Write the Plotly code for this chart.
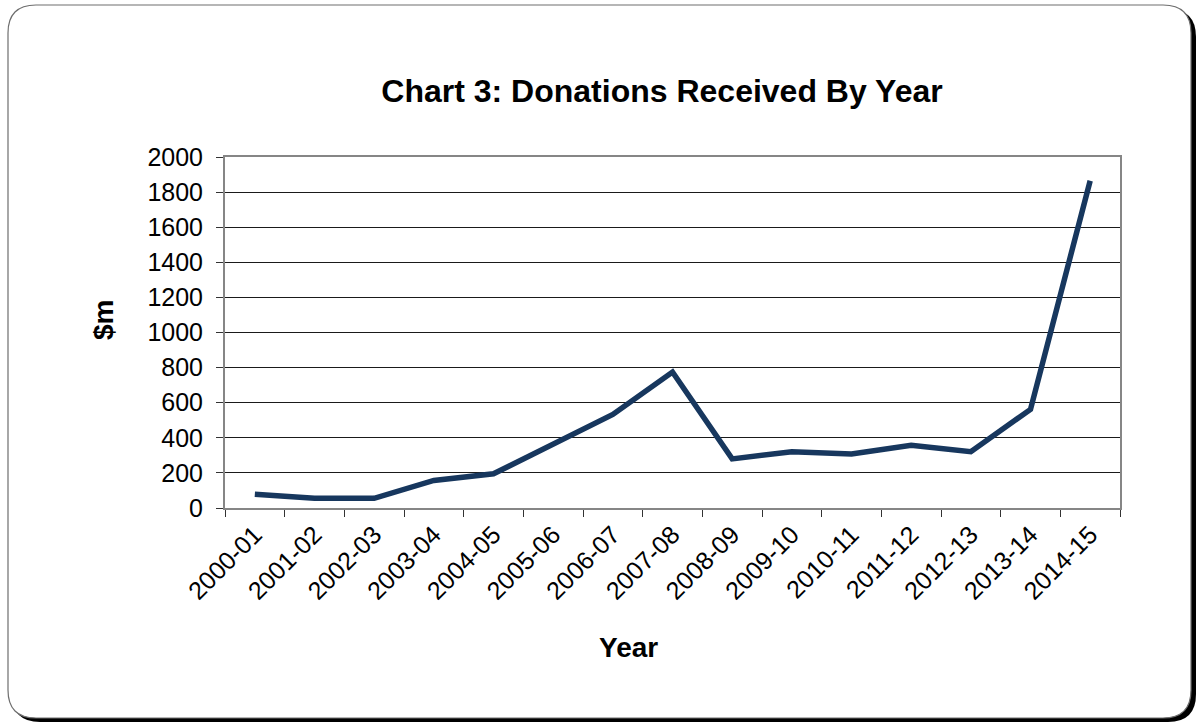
import plotly.graph_objects as go

# Financial years and donations received ($m)
years = ["2000-01", "2001-02", "2002-03", "2003-04", "2004-05", "2005-06",
         "2006-07", "2007-08", "2008-09", "2009-10", "2010-11", "2011-12",
         "2012-13", "2013-14", "2014-15"]
donations = [78, 55, 55, 157, 195, 365, 533, 775, 280, 321, 308, 358, 321, 562, 1865]

y_ticks = [0, 200, 400, 600, 800, 1000, 1200, 1400, 1600, 1800, 2000]

W, H = 1198, 725
L, R, T, B = 225, 78, 157, 217
PW, PH = W - L - R, H - T - B


def px(x):
    return (x - L) / PW


def py(y):
    return (H - B - y) / PH


def rounded_rect(x0, y0, x1, y1, r):
    return (
        f"M {px(x0 + r)},{py(y0)} L {px(x1 - r)},{py(y0)} "
        f"Q {px(x1)},{py(y0)} {px(x1)},{py(y0 + r)} "
        f"L {px(x1)},{py(y1 - r)} "
        f"Q {px(x1)},{py(y1)} {px(x1 - r)},{py(y1)} "
        f"L {px(x0 + r)},{py(y1)} "
        f"Q {px(x0)},{py(y1)} {px(x0)},{py(y1 - r)} "
        f"L {px(x0)},{py(y0 + r)} "
        f"Q {px(x0)},{py(y0)} {px(x0 + r)},{py(y0)} Z"
    )


font = "Liberation Sans, Arial, sans-serif"

fig = go.Figure()
fig.add_trace(go.Scatter(
    x=years, y=donations, mode="lines",
    line=dict(color="#17375e", width=5.5),
    hoverinfo="x+y",
))

fig.update_layout(
    width=W, height=H,
    margin=dict(l=L, r=R, t=T, b=B),
    paper_bgcolor="white",
    plot_bgcolor="#f2f2f2",
    showlegend=False,
    font=dict(family=font, color="black", size=25),
    title=dict(
        text="<b>Chart 3: Donations Received By Year</b>",
        x=662 / W, y=1 - 91 / H, xanchor="center", yanchor="middle",
        font=dict(size=32, family=font, color="black"),
    ),
    shapes=[
        # drop shadow of the chart frame
        dict(type="path", xref="paper", yref="paper", layer="below",
             path=rounded_rect(12, 9, 1196, 722, 28),
             fillcolor="black", line=dict(width=0)),
        # chart frame
        dict(type="path", xref="paper", yref="paper", layer="below",
             path=rounded_rect(8, 5, 1191, 718, 28),
             fillcolor="white", line=dict(color="#6e6e6e", width=1.2)),
    ],
    annotations=[
        dict(text="<b>Year</b>", xref="paper", yref="paper",
             x=px(628), y=py(647), xanchor="center", yanchor="middle",
             showarrow=False, font=dict(size=28, family=font)),
        dict(text="<b>$m</b>", xref="paper", yref="paper",
             x=px(103), y=py(320), xanchor="center", yanchor="middle",
             textangle=-90, showarrow=False, font=dict(size=28, family=font)),
    ],
)

fig.update_xaxes(
    type="category",
    range=[-0.5, len(years) - 0.5],
    tickangle=-45,
    ticks="outside", ticklen=7, tickcolor="#333", tickwidth=1,
    tickson="boundaries",
    showgrid=False,
    showline=True, linecolor="#868686", linewidth=2, mirror=True,
    tickfont=dict(size=25, family=font),
)

fig.update_yaxes(
    range=[0, 2000],
    tickvals=y_ticks,
    ticks="outside", ticklen=7, tickcolor="#333", tickwidth=1,
    ticklabelstandoff=8,
    showgrid=True, gridcolor="#1a1a1a", gridwidth=1,
    zeroline=False,
    showline=True, linecolor="#868686", linewidth=2, mirror=True,
    tickfont=dict(size=25, family=font),
)

fig.write_html("out.html")
